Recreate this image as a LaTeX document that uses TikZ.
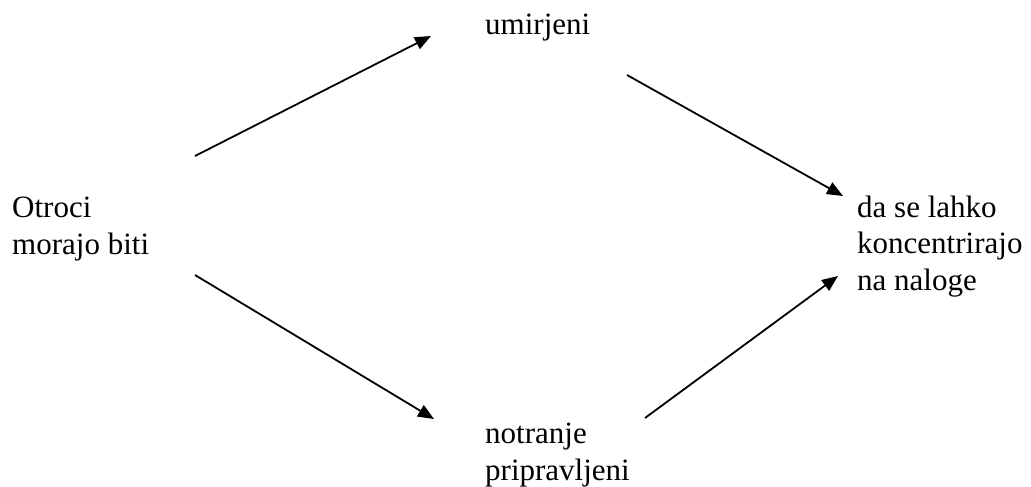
\documentclass[tikz,border=0pt]{standalone}
\usepackage{fontspec}
\setmainfont{Liberation Serif}
\usetikzlibrary{arrows.meta}
\tikzset{
  lbl/.style={anchor=base west, inner sep=0pt, align=left, font=\fontsize{31}{36.5}\selectfont},
  arr/.style={line width=1.8pt, -{Triangle[length=16pt,width=13pt]}}
}
\begin{document}
\begin{tikzpicture}[x=1pt,y=-1pt]
\useasboundingbox (0,0) rectangle (1031,487);
\node[lbl] (otroci) at (12,254) {Otroci\\morajo biti};
\node[lbl] (umir) at (485,35) {umirjeni};
\node[lbl] (notr) at (485,480) {notranje\\pripravljeni};
\node[lbl] (konc) at (857,290) {da se lahko\\koncentrirajo\\na naloge};
\coordinate (a1s) at (195,156);
\coordinate (a1e) at (431,36);
\coordinate (a2s) at (627,75);
\coordinate (a2e) at (843,196);
\coordinate (a3s) at (195,275);
\coordinate (a3e) at (434,419);
\coordinate (a4s) at (645,418);
\coordinate (a4e) at (838,276);
\draw[arr] (a1s) -- (a1e);
\draw[arr] (a2s) -- (a2e);
\draw[arr] (a3s) -- (a3e);
\draw[arr] (a4s) -- (a4e);
\end{tikzpicture}
\end{document}
